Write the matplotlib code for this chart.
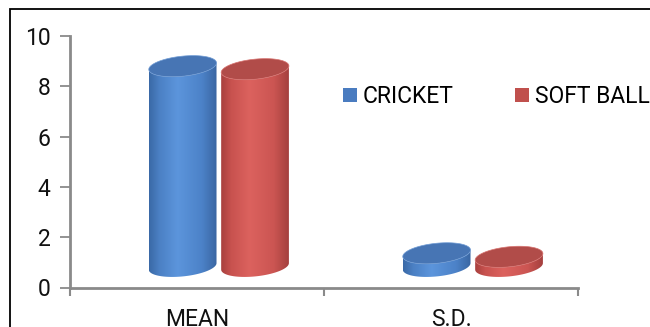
import numpy as np
import matplotlib.pyplot as plt
from matplotlib.patches import Polygon, Patch, Rectangle
from matplotlib.colors import LinearSegmentedColormap

# data
categories = ['MEAN', 'S.D.']
cricket = [7.96, 0.52]
softball = [7.84, 0.38]
series_names = ['CRICKET', 'SOFT BALL']
yticks = [0, 2, 4, 6, 8, 10]

plt.rcParams['font.family'] = ['Roboto', 'DejaVu Sans']
FS = 16.5

fig = plt.figure(figsize=(6.5, 3.27), dpi=100)
ax = fig.add_axes([70 / 650, 39.5 / 327, 508 / 650, 251.5 / 327])
ax.set_xlim(0, 2)
ax.set_ylim(0, 10)
ax.set_autoscale_on(False)

# 3d look: bars sit back and to the right of the axis
depth_x = 0.086
depth_y = 0.84
bar_w = 0.268
gap = 0.285
ell_b = 10.0          # px, half height of the end ellipses
tilt = np.deg2rad(6)

blue_side = LinearSegmentedColormap.from_list(
    'b', [(0, '#3a69a6'), (0.15, '#4b80c4'), (0.42, '#5c95dc'), (0.78, '#4c82c8'), (1, '#3a66a2')])
red_side = LinearSegmentedColormap.from_list(
    'r', [(0, '#a8403e'), (0.15, '#c8524f'), (0.42, '#dc625e'), (0.78, '#cb5552'), (1, '#a4403e')])
blue_top = '#4775b4'
red_top = '#b14c49'
grad = np.linspace(0, 1, 256).reshape(1, -1)


def ellipse_pts(cx, cy, a, t):
    x = cx + a * np.cos(t) * np.cos(tilt) - ell_b * np.sin(t) * np.sin(tilt)
    y = cy + a * np.cos(t) * np.sin(tilt) + ell_b * np.sin(t) * np.cos(tilt)
    return np.column_stack([x, y])


def cylinder(xc, value, cmap, top_color, rim):
    td = ax.transData
    inv = td.inverted()
    bx, by = td.transform((xc, depth_y))
    _, ty = td.transform((xc, depth_y + value))
    a = (td.transform((xc + bar_w / 2, 0))[0] - td.transform((xc - bar_w / 2, 0))[0]) / 2
    t0 = np.arctan2(-ell_b * np.sin(tilt), a * np.cos(tilt))
    t = np.linspace(t0 + np.pi, t0 + 2 * np.pi, 80)
    side = np.vstack([ellipse_pts(bx, by, a, t), ellipse_pts(bx, ty, a, t[::-1])])
    side = inv.transform(side)
    poly = Polygon(side, closed=True, facecolor='none', edgecolor='none')
    ax.add_patch(poly)
    im = ax.imshow(grad, cmap=cmap, aspect='auto', interpolation='bilinear',
                   extent=[side[:, 0].min(), side[:, 0].max(), side[:, 1].min(), side[:, 1].max()],
                   zorder=2)
    im.set_clip_path(poly)
    top = inv.transform(ellipse_pts(bx, ty, a, np.linspace(0, 2 * np.pi, 120)))
    ax.add_patch(Polygon(top, closed=True, facecolor=top_color, edgecolor=rim, lw=0.5, zorder=3))


for i in range(len(categories)):
    c = i + 0.5 + depth_x
    cylinder(c - gap / 2, cricket[i], blue_side, blue_top, '#6f9bd4')
    cylinder(c + gap / 2, softball[i], red_side, red_top, '#d77370')

ax.set_xlim(0, 2)
ax.set_ylim(0, 10)

for s in ['top', 'right']:
    ax.spines[s].set_visible(False)
for s in ['left', 'bottom']:
    ax.spines[s].set_color('#8a8a8a')
    ax.spines[s].set_linewidth(2)

ax.set_yticks(yticks)
ax.tick_params(axis='y', direction='out', length=7, width=1.3, color='#8a8a8a',
               pad=7, labelsize=FS, labelcolor='#111111')
ax.set_xticks([0, 1, 2])
ax.set_xticklabels([])
ax.set_xticks([0.5, 1.5], minor=True)
ax.set_xticklabels(categories, minor=True)
ax.tick_params(axis='x', which='major', direction='out', length=6, width=1.5, color='#8a8a8a')
ax.tick_params(axis='x', which='minor', length=0, pad=15, labelsize=FS, labelcolor='#111111')

handles = [Patch(facecolor='#4a7cc0', edgecolor='none'), Patch(facecolor='#c0504d', edgecolor='none')]
fig.legend(handles, series_names, loc='center left', bbox_to_anchor=(343 / 650, 1 - 96.5 / 327),
           ncol=2, frameon=False, fontsize=FS, handlelength=0.59, handleheight=0.59,
           handletextpad=0.27, columnspacing=2.7, borderpad=0, borderaxespad=0)

# outer frame of the chart (cropped at the right and bottom)
fig.add_artist(Rectangle((10 / 650, -0.1), 1.2, (327 - 9) / 327 + 0.1, transform=fig.transFigure,
                         fill=False, lw=1.3, ec='black'))

fig.savefig('out.png', dpi=100)
